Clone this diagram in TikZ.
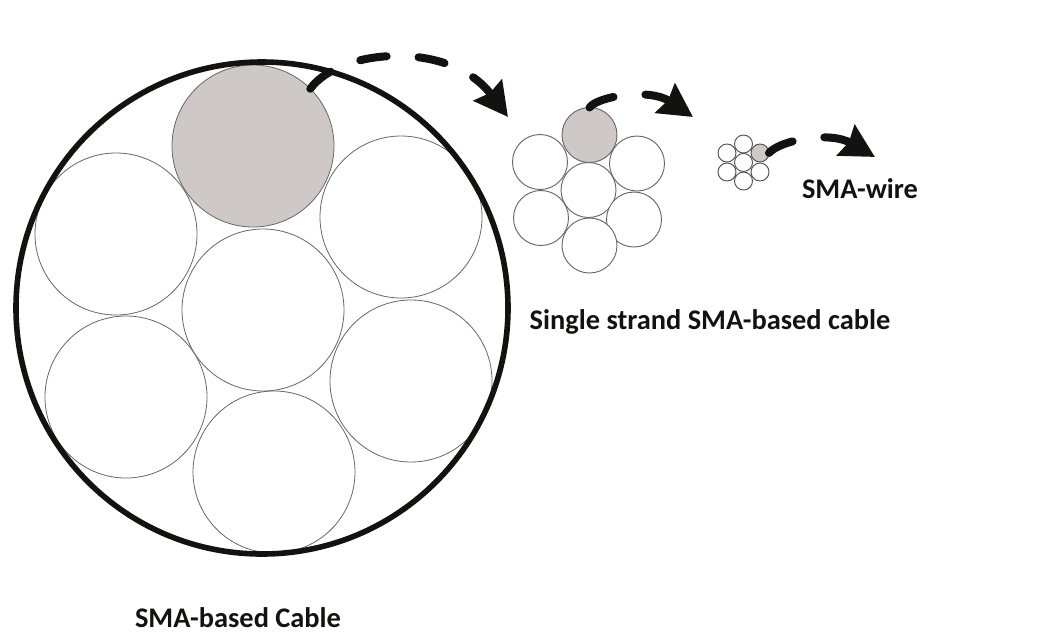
\documentclass[tikz,border=0pt]{standalone}
\usepackage{fontspec}
\setmainfont{Carlito}
\usetikzlibrary{arrows.meta}
\definecolor{strandgray}{RGB}{206,201,199}
\definecolor{edgegray}{RGB}{105,103,103}
\definecolor{inkblack}{RGB}{20,18,17}
\begin{document}
\begin{tikzpicture}[x=0.75pt,y=-0.75pt,
  wire/.style={circle,draw=edgegray,line width=0.6pt,fill=white,inner sep=0pt,outer sep=0pt},
  bigw/.style={wire,minimum size=121.5pt},
  midw/.style={wire,minimum size=41.25pt,line width=0.7pt},
  tinyw/.style={wire,minimum size=13.5pt,line width=0.7pt,draw=edgegray!80!black},
  hot/.style={fill=strandgray},
  jacket/.style={circle,draw=inkblack,line width=4.2pt,inner sep=0pt,outer sep=0pt,minimum size=369pt},
  flow/.style={draw=inkblack,line width=6pt,line cap=round,dash pattern=on 20pt off 24pt,
    -{Stealth[length=25pt,width=26pt,inset=2.5pt]}},
  lbl/.style={font=\bfseries\fontsize{21.3}{25}\selectfont,text=inkblack,inner sep=0pt}]
\useasboundingbox (0,0) rectangle (1042,633);

% big cable
\node[bigw] (bc) at (263,310) {};
\node[bigw,hot] (bhot) at (253,146) {};
\node[bigw] (bul) at (116,234) {};
\node[bigw] (bur) at (401,217) {};
\node[bigw] (bll) at (126,397) {};
\node[bigw] (blr) at (411,381) {};
\node[bigw] (bb) at (274,472) {};
\node[jacket] (jk) at (262,308) {};

% single strand
\node[midw] (mc) at (588.5,190) {};
\node[midw,hot] (mhot) at (589.5,135) {};
\node[midw] (mul) at (540,162) {};
\node[midw] (mur) at (637,163.5) {};
\node[midw] (mll) at (541,218) {};
\node[midw] (mlr) at (634,219.5) {};
\node[midw] (mb) at (589.5,245.5) {};

% wire
\node[tinyw] (tc) at (743.5,162.5) {};
\node[tinyw] (tt) at (743.5,144) {};
\node[tinyw,hot] (thot) at (760,153) {};
\node[tinyw] (tlr) at (760,172) {};
\node[tinyw] (tb) at (743.5,181) {};
\node[tinyw] (tll) at (727,172) {};
\node[tinyw] (tul) at (727,153) {};

% arrows
\coordinate (e1) at (508,117);
\coordinate (e2) at (693,117);
\coordinate (e3) at (875,157);
\draw[flow] (bhot.45) .. controls (340,48) and (450,40) .. (e1);
\draw[flow] (mhot.north) .. controls (598,96) and (650,88) .. (e2);
\draw[flow] (thot.east) .. controls (780,140) and (830,131) .. (e3);

% labels
\node[lbl,anchor=base] (l1) at (238,627) {SMA-based Cable};
\node[lbl] (l2) at (710,322) {Single strand SMA-based cable};
\node[lbl] (l3) at (860,189) {SMA-wire};
\end{tikzpicture}
\end{document}
